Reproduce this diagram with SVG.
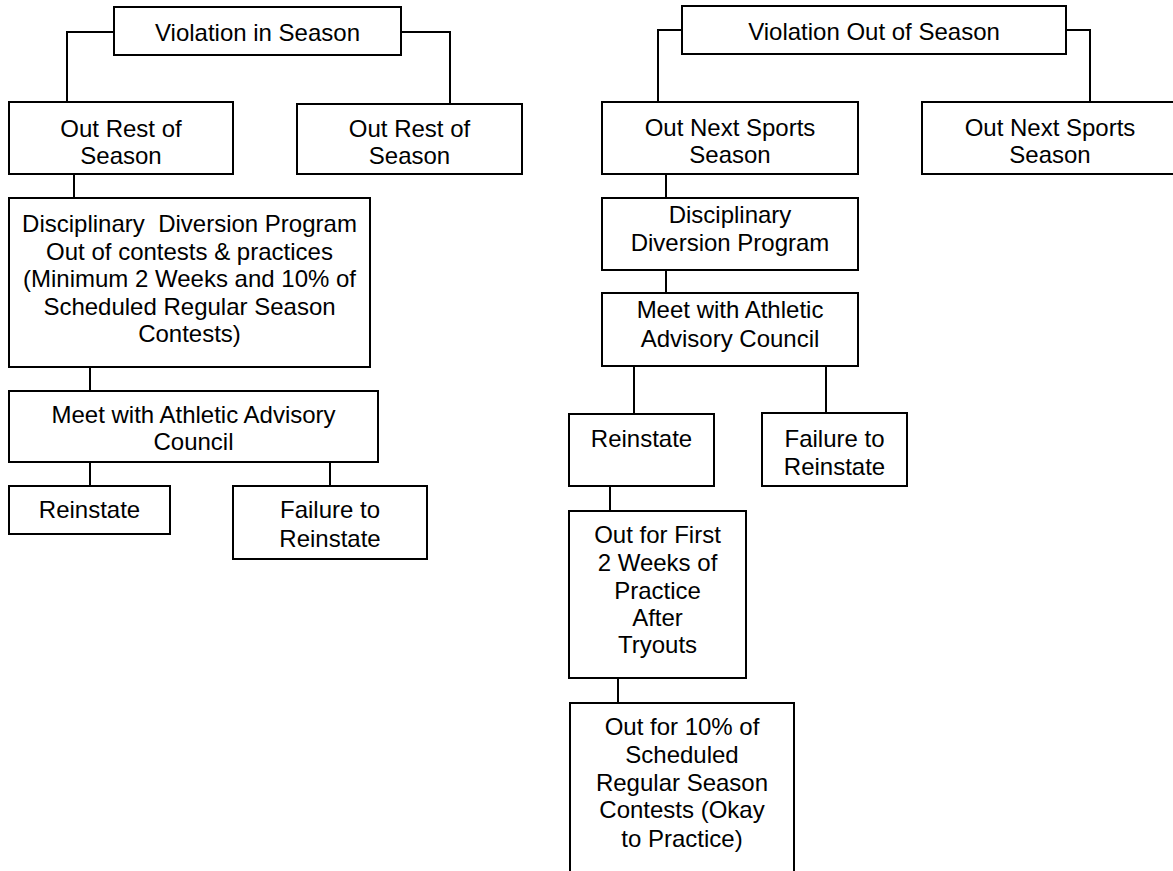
<svg xmlns="http://www.w3.org/2000/svg" width="1173" height="871" viewBox="0 0 1173 871">
<style>
rect{fill:#fff;stroke:#000;stroke-width:2}
.c path{fill:none;stroke:#000;stroke-width:2}
text{font-family:"Liberation Sans",Arial,sans-serif;font-size:24px;fill:#000;text-anchor:middle}
</style>
<rect x="0" y="0" width="1173" height="871" style="stroke:none"/>
<g class="c" id="connectors">
<path d="M114 32H67V103"/>
<path d="M401 32H450V104"/>
<path d="M74 174V198"/>
<path d="M90 367V391"/>
<path d="M90 462V486"/>
<path d="M330 462V486"/>
<path d="M682 30H658V102"/>
<path d="M1066 30H1090V102"/>
<path d="M666 174V198"/>
<path d="M666 270V293"/>
<path d="M634 366V414"/>
<path d="M826 366V413"/>
<path d="M610 486V511"/>
<path d="M618 678V703"/>
</g>
<g id="n1"><rect x="114" y="7" width="287" height="48"/><text x="257.5" y="41">Violation in Season</text></g>
<g id="n2"><rect x="9" y="102" width="224" height="72"/><text x="121" y="137">Out Rest of</text><text x="121" y="164">Season</text></g>
<g id="n3"><rect x="297" y="104" width="225" height="70"/><text x="409.5" y="137">Out Rest of</text><text x="409.5" y="164">Season</text></g>
<g id="n4"><rect x="9" y="198" width="361" height="169"/>
<text x="189.5" y="232" style="white-space:pre" xml:space="preserve">Disciplinary  Diversion Program</text>
<text x="189.5" y="259.5">Out of contests &amp; practices</text>
<text x="189.5" y="287">(Minimum 2 Weeks and 10% of</text>
<text x="189.5" y="314.5">Scheduled Regular Season</text>
<text x="189.5" y="342">Contests)</text></g>
<g id="n5"><rect x="9" y="391" width="369" height="71"/><text x="193.5" y="423">Meet with Athletic Advisory</text><text x="193.5" y="450">Council</text></g>
<g id="n6"><rect x="9" y="486" width="161" height="48"/><text x="89.5" y="518">Reinstate</text></g>
<g id="n7"><rect x="233" y="486" width="194" height="73"/><text x="330" y="518">Failure to</text><text x="330" y="546.5">Reinstate</text></g>
<g id="n8"><rect x="682" y="6" width="384" height="48"/><text x="874" y="39.5">Violation Out of Season</text></g>
<g id="n9"><rect x="602" y="102" width="256" height="72"/><text x="730" y="135.5">Out Next Sports</text><text x="730" y="163">Season</text></g>
<g id="n10"><rect x="922" y="102" width="256" height="72"/><text x="1050" y="135.5">Out Next Sports</text><text x="1050" y="163">Season</text></g>
<g id="n11"><rect x="602" y="198" width="256" height="72"/><text x="730" y="223">Disciplinary</text><text x="730" y="251">Diversion Program</text></g>
<g id="n12"><rect x="602" y="293" width="256" height="73"/><text x="730" y="318">Meet with Athletic</text><text x="730" y="347">Advisory Council</text></g>
<g id="n13"><rect x="569" y="414" width="145" height="72"/><text x="641.5" y="447">Reinstate</text></g>
<g id="n14"><rect x="762" y="413" width="145" height="73"/><text x="834.5" y="447">Failure to</text><text x="834.5" y="475">Reinstate</text></g>
<g id="n15"><rect x="569" y="511" width="177" height="167"/>
<text x="657.5" y="543">Out for First</text><text x="657.5" y="571">2 Weeks of</text><text x="657.5" y="598.5">Practice</text><text x="657.5" y="626">After</text><text x="657.5" y="653">Tryouts</text></g>
<g id="n16"><rect x="570" y="703" width="224" height="190"/>
<text x="682" y="735">Out for 10% of</text><text x="682" y="763">Scheduled</text><text x="682" y="790.5">Regular Season</text><text x="682" y="818">Contests (Okay</text><text x="682" y="846.5">to Practice)</text></g>
</svg>
